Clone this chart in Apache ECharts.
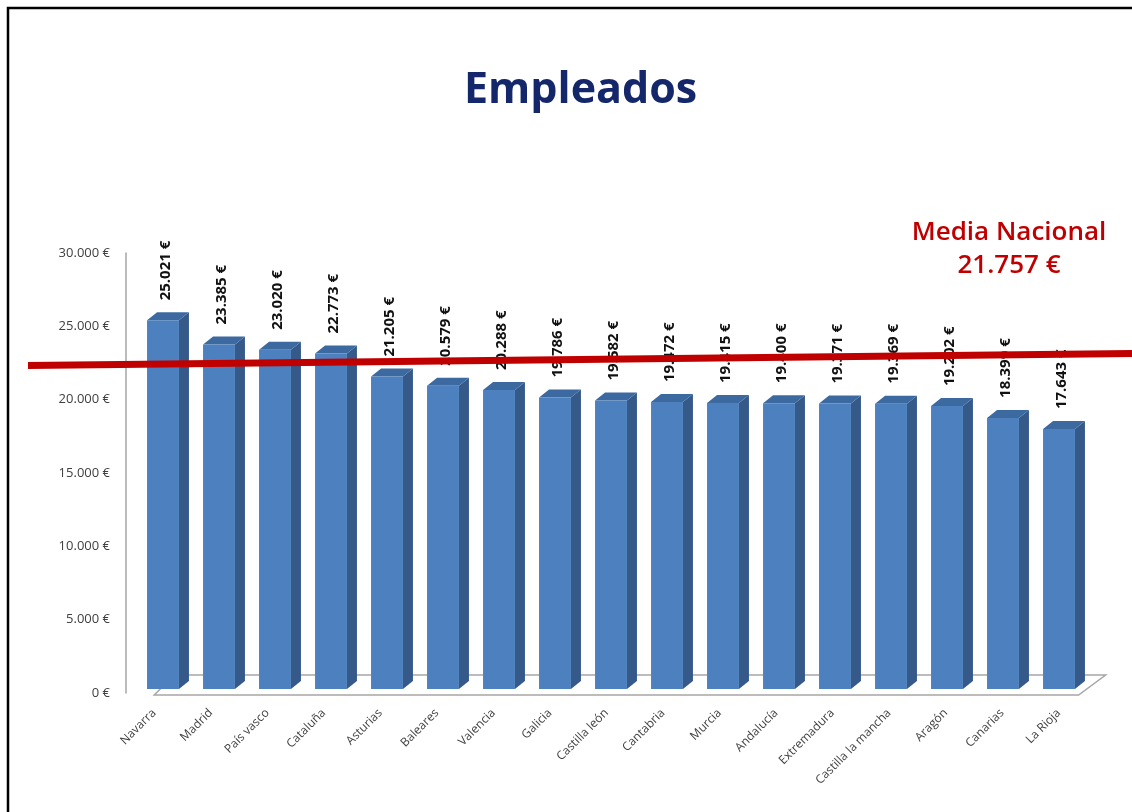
<!DOCTYPE html>
<html>
<head>
<meta charset="utf-8">
<script src="https://cdn.jsdelivr.net/npm/echarts@6/dist/echarts.min.js"></script>
<style>
html,body{margin:0;padding:0;background:#fff;}
#main{width:1132px;height:812px;}
</style>
</head>
<body>
<div id="main"></div>
<script>
const categories = ['Navarra','Madrid','País vasco','Cataluña','Asturias','Baleares','Valencia','Galicia','Castilla león','Cantabria','Murcia','Andalucía','Extremadura','Castilla la mancha','Aragón','Canarias','La Rioja'];
const values = [25021,23385,23020,22773,21205,20579,20288,19786,19582,19472,19415,19400,19371,19369,19202,18399,17643];
const mediaNacional = 21757;
const yTicks = [0,5000,10000,15000,20000,25000,30000];

function fmt(n){ return String(n).replace(/\B(?=(\d{3})+(?!\d))/g,'.') + ' €'; }

const chart = echarts.init(document.getElementById('main'));
const DX = 10, DY = -8;

chart.setOption({
  animation:false,
  backgroundColor:'#fff',
  title:{text:'Empleados', left:459, top:64,
    textStyle:{fontFamily:'Open Sans', fontWeight:'bold', fontSize:43, color:'#13276A'}},
  grid:[
    {left:135, right:45, top:247, bottom:123},
    {left:126, right:45, top:253, bottom:119}
  ],
  xAxis:[
    {type:'category', gridIndex:0, data:categories, show:false},
    {type:'category', gridIndex:1, data:categories,
      axisLine:{show:false}, axisTick:{show:false},
      axisLabel:{rotate:45, margin:18, interval:0, color:'#404040', fontFamily:'Open Sans', fontSize:12}}
  ],
  yAxis:[
    {type:'value', gridIndex:0, min:0, max:30000, interval:5000, show:false, splitLine:{show:false}},
    {type:'value', gridIndex:1, min:0, max:30000, interval:5000,
      axisLine:{show:true, lineStyle:{color:'#A6A6A6', width:1.5}}, axisTick:{show:false},
      splitLine:{show:false},
      axisLabel:{margin:16, color:'#404040', fontFamily:'Open Sans', fontSize:13, formatter:v=>fmt(v)}}
  ],
  series:[{
    type:'custom', xAxisIndex:0, yAxisIndex:0,
    data: values.map((v,i)=>[i,v]),
    renderItem(params, api){
      const i = api.value(0), v = api.value(1);
      const top = api.coord([i, v]);
      const base = api.coord([i, 0]);
      const w = api.size([1,0])[0]*0.57;
      const l = top[0]-w/2, r = top[0]+w/2, t = top[1], b = base[1];
      return {type:'group', children:[
        {type:'polygon', shape:{points:[[r,t],[r+DX,t+DY],[r+DX,b+DY],[r,b]]}, style:{fill:'#355A89'}},
        {type:'polygon', shape:{points:[[l,t],[l+DX,t+DY],[r+DX,t+DY],[r,t]]}, style:{fill:'#3C69A0'}},
        {type:'polygon', shape:{points:[[l,t],[r,t],[r,b],[l,b]]}, style:{fill:'#4C80BF'}},
        {type:'text', x: top[0]+3, y: t-20, rotation: Math.PI/2,
          style:{text: fmt(v), align:'left', verticalAlign:'middle', fill:'#111',
            font:'bold 15px "Open Sans"'}}
      ]};
    }
  }]
});

function drawExtras(){
  const baseY = chart.convertToPixel({xAxisIndex:0,yAxisIndex:0},[0,0])[1];
  const first = chart.convertToPixel({xAxisIndex:0,yAxisIndex:0},[0,0])[0];
  const last = chart.convertToPixel({xAxisIndex:0,yAxisIndex:0},[categories.length-1,0])[0];
  const band = (last-first)/(categories.length-1);
  const axisX = chart.convertToPixel({xAxisIndex:1,yAxisIndex:1},[0,0]);
  const fl = axisX[0], fr = last + band*0.35;
  const fy = baseY + 6;
  const my = chart.convertToPixel({xAxisIndex:0,yAxisIndex:0},[0,mediaNacional])[1];
  chart.setOption({graphic:[
    {type:'polygon', z:-1, shape:{points:[[fl,fy],[fr,fy],[fr+27,fy-20],[fl+20,fy-20]]},
      style:{fill:'#fff', stroke:'#A6A6A6', lineWidth:1.5}},
    {type:'line', z:100, shape:{x1:28, y1:my-3, x2:1132, y2:my-15},
      style:{stroke:'#C00000', lineWidth:7}},
    {type:'text', z:100, x:1009, y:216, style:{text:'Media Nacional\n' + fmt(mediaNacional), align:'center',
      fill:'#C00000', font:'600 26px "Open Sans"', lineHeight:33}},
    {type:'polyline', z:100, shape:{points:[[8,830],[8,8],[1132,8]]}, style:{stroke:'#000', lineWidth:2.5, fill:null}}
  ]});
}
drawExtras();
</script>
</body>
</html>
